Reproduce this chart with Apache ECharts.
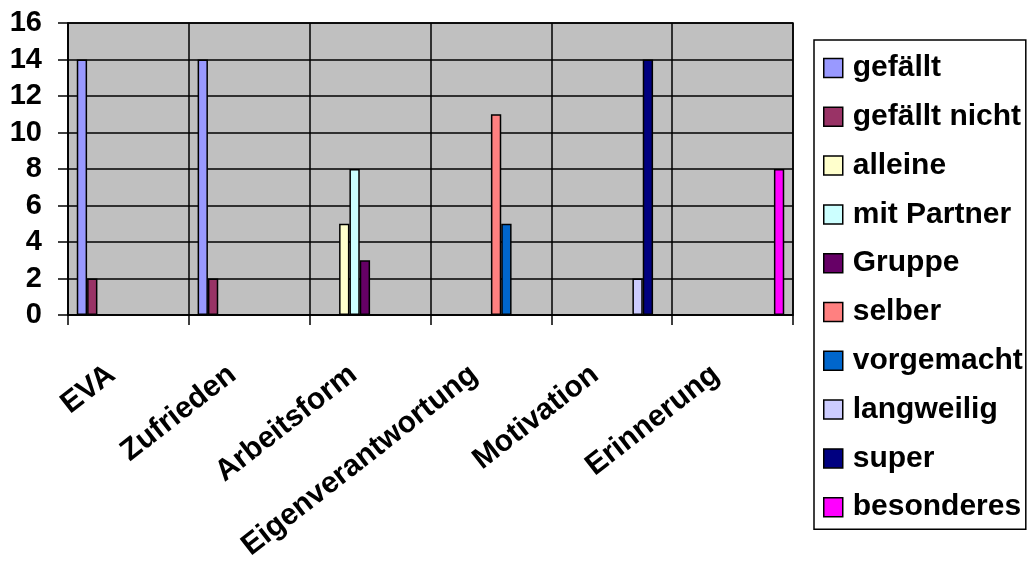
<!DOCTYPE html>
<html>
<head>
<meta charset="utf-8">
<script src="https://cdn.jsdelivr.net/npm/echarts@6/dist/echarts.min.js"></script>
<style>html,body{margin:0;padding:0;background:#fff}#c{width:1028px;height:567px}</style>
</head>
<body>
<div id="c"></div>
<script>
var categories = ['EVA', 'Zufrieden', 'Arbeitsform', 'Eigenverantwortung', 'Motivation', 'Erinnerung'];
var seriesNames = ['gefällt', 'gefällt nicht', 'alleine', 'mit Partner', 'Gruppe', 'selber', 'vorgemacht', 'langweilig', 'super', 'besonderes'];
var gefaellt      = [14, 14, null, null, null, null];
var gefaelltNicht = [2, 2, null, null, null, null];
var alleine       = [null, null, 5, null, null, null];
var mitPartner    = [null, null, 8, null, null, null];
var gruppe        = [null, null, 3, null, null, null];
var selber        = [null, null, null, 11, null, null];
var vorgemacht    = [null, null, null, 5, null, null];
var langweilig    = [null, null, null, null, 2, null];
var superW        = [null, null, null, null, 14, null];
var besonderes    = [null, null, null, null, null, 8];
var yTicks = [0, 2, 4, 6, 8, 10, 12, 14, 16];

var seriesData = [gefaellt, gefaelltNicht, alleine, mitPartner, gruppe, selber, vorgemacht, langweilig, superW, besonderes];
var colors = ['#9999FF', '#993366', '#FFFFCC', '#CCFFFF', '#660066', '#FF8080', '#0066CC', '#CCCCFF', '#000080', '#FF00FF'];
var FONT = "'Liberation Sans', Arial, sans-serif";

var chart = echarts.init(document.getElementById('c'), null, {renderer: 'canvas'});
chart.setOption({
  animation: false,
  color: colors,
  textStyle: {fontFamily: FONT},
  grid: {left: 68, right: 235, top: 23, bottom: 252, show: true, backgroundColor: '#C0C0C0', borderColor: '#000', borderWidth: 1.5},
  legend: {
    orient: 'vertical', left: 814, top: 40,
    padding: [13, 3, 7, 9],
    itemWidth: 19, itemHeight: 19, itemGap: 18.8,
    borderColor: '#000', borderWidth: 1.5,
    icon: 'rect',
    itemStyle: {borderColor: '#000', borderWidth: 1.5},
    textStyle: {fontFamily: FONT, fontWeight: 'bold', fontSize: 30, color: '#000', lineHeight: 30, padding: [0, 0, 0, 5]},
    data: seriesNames
  },
  xAxis: {
    type: 'category', data: categories,
    axisLine: {lineStyle: {color: '#000', width: 1.5}},
    axisTick: {show: true, length: 10, lineStyle: {color: '#000', width: 1.5}},
    splitLine: {show: true, lineStyle: {color: '#000', width: 1.5}},
    axisLabel: {interval: 0, rotate: 38, margin: 24, align: 'right', verticalAlign: 'top', padding: [0, 33, 0, 0],
      fontFamily: FONT, fontWeight: 'bold', fontSize: 30, color: '#000'}
  },
  yAxis: {
    type: 'value', min: yTicks[0], max: yTicks[yTicks.length - 1], interval: 2,
    axisLine: {show: true, lineStyle: {color: '#000', width: 1.5}},
    axisTick: {show: true, length: 10, lineStyle: {color: '#000', width: 1.5}},
    splitLine: {show: true, lineStyle: {color: '#000', width: 1.5}},
    axisLabel: {margin: 26, fontFamily: FONT, fontWeight: 'bold', fontSize: 29, color: '#000'}
  },
  series: seriesNames.map(function (n, i) {
    return {
      name: n, type: 'bar', data: seriesData[i],
      barGap: '0%', barCategoryGap: '14.5%',
      itemStyle: {color: colors[i], borderColor: '#000', borderWidth: 1.5}
    };
  })
});
</script>
</body>
</html>
